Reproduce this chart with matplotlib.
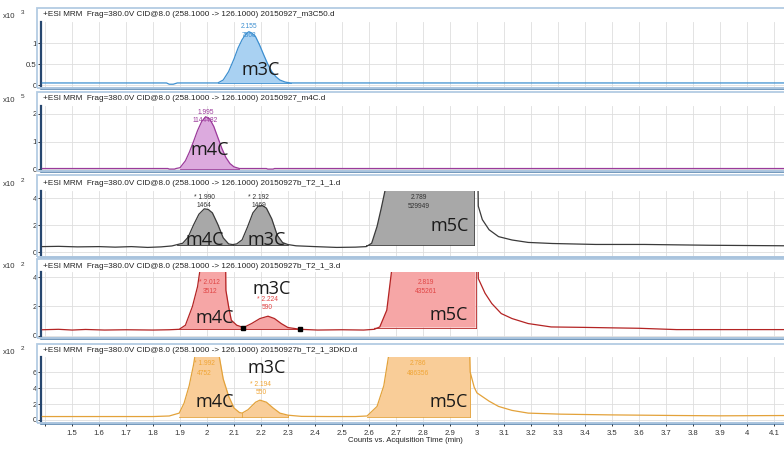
import matplotlib
matplotlib.use("Agg")
import matplotlib.pyplot as plt
from matplotlib.patches import Rectangle
import numpy as np

W, H = 784, 453

# ---------------- data ----------------
headers = [
    "+ESI MRM  Frag=380.0V CID@8.0 (258.1000 -> 126.1000) 20150927_m3C50.d",
    "+ESI MRM  Frag=380.0V CID@8.0 (258.1000 -> 126.1000) 20150927_m4C.d",
    "+ESI MRM  Frag=380.0V CID@8.0 (258.1000 -> 126.1000) 20150927b_T2_1_1.d",
    "+ESI MRM  Frag=380.0V CID@8.0 (258.1000 -> 126.1000) 20150927b_T2_1_3.d",
    "+ESI MRM  Frag=380.0V CID@8.0 (258.1000 -> 126.1000) 20150927b_T2_1_3DKD.d",
]
exponents = ["3", "5", "2", "2", "2"]

t1 = [1.39, 1.60, 1.85, 1.86, 1.875, 1.89, 1.90, 2.04, 2.06, 2.08, 2.10, 2.115, 2.13, 2.145, 2.155, 2.165,
      2.18, 2.195, 2.21, 2.225, 2.24, 2.255, 2.27, 2.29, 2.31, 3.0, 4.15]
y1 = [0.05, 0.05, 0.05, 0.02, 0.02, 0.05, 0.05, 0.05, 0.12, 0.32, 0.62, 0.88, 1.08, 1.22, 1.27, 1.24,
      1.15, 0.95, 0.72, 0.50, 0.32, 0.20, 0.12, 0.07, 0.05, 0.05, 0.05]

t2 = [1.39, 1.855, 1.86, 1.88, 1.885, 1.90, 1.92, 1.935, 1.95, 1.965, 1.98, 1.995, 2.01, 2.025, 2.04,
      2.055, 2.07, 2.085, 2.10, 2.12, 2.22, 2.225, 2.245, 2.25, 4.15]
y2 = [0.02, 0.02, 0.0, 0.0, 0.02, 0.05, 0.3, 0.62, 1.0, 1.4, 1.72, 1.9, 1.82, 1.55, 1.15,
      0.75, 0.42, 0.2, 0.08, 0.02, 0.02, 0.0, 0.0, 0.02, 0.02]

t3 = [1.39, 1.45, 1.52, 1.60, 1.66, 1.72, 1.78, 1.83, 1.87, 1.89, 1.91, 1.93, 1.95, 1.97, 1.99, 2.005,
      2.02, 2.04, 2.06, 2.08, 2.095, 2.11, 2.13, 2.15, 2.17, 2.19, 2.205, 2.22, 2.24, 2.26, 2.28, 2.30,
      2.33, 2.40, 2.48, 2.55, 2.59, 2.61, 2.63, 2.645, 2.66, 2.70, 2.80, 2.90, 2.99, 3.005, 3.02, 3.045,
      3.08, 3.13, 3.19, 3.28, 3.44, 3.62, 3.86, 4.15]
y3 = [0.40, 0.42, 0.38, 0.40, 0.36, 0.40, 0.34, 0.38, 0.45, 0.55, 0.65, 1.1, 2.0, 2.8, 3.2, 3.15,
      2.9, 2.05, 1.05, 0.6, 0.55, 0.6, 0.9, 1.85, 2.9, 3.4, 3.45, 3.25, 2.45, 1.25, 0.7, 0.55,
      0.46, 0.40, 0.34, 0.36, 0.40, 0.65, 1.9, 3.2, 4.6, 30, 40, 40, 30, 3.4, 2.4, 1.65,
      1.14, 0.89, 0.71, 0.63, 0.56, 0.56, 0.50, 0.46]

t4 = [1.39, 1.45, 1.50, 1.55, 1.62, 1.70, 1.80, 1.86, 1.897, 1.92, 1.946, 1.965, 1.975, 2.0, 2.03, 2.06,
      2.07, 2.08, 2.09, 2.11, 2.135, 2.165, 2.196, 2.226, 2.25, 2.275, 2.30, 2.345, 2.41, 2.50, 2.58,
      2.62, 2.64, 2.666, 2.685, 2.75, 2.85, 2.95, 2.995, 3.005, 3.03, 3.055, 3.09, 3.13, 3.19, 3.275,
      3.40, 3.495, 3.60, 3.74, 3.90, 4.15]
y4 = [0.42, 0.45, 0.40, 0.44, 0.40, 0.42, 0.40, 0.42, 0.45, 0.73, 2.0, 3.35, 4.6, 20, 25, 20,
      3.1, 2.0, 1.07, 0.73, 0.57, 0.84, 1.18, 1.34, 1.18, 0.84, 0.57, 0.45, 0.40, 0.42, 0.40,
      0.45, 0.61, 1.75, 4.6, 40, 45, 45, 40, 3.9, 2.9, 2.2, 1.52, 1.18, 0.84, 0.61,
      0.58, 0.55, 0.52, 0.43, 0.43, 0.43]

t5 = [1.39, 1.60, 1.80, 1.86, 1.897, 1.915, 1.934, 1.95, 1.96, 2.0, 2.04, 2.06, 2.08, 2.10, 2.12, 2.13,
      2.152, 2.18, 2.196, 2.22, 2.245, 2.27, 2.30, 2.35, 2.45, 2.55, 2.593, 2.63, 2.655, 2.675, 2.75,
      2.85, 2.95, 2.975, 2.99, 3.0, 3.045, 3.08, 3.13, 3.19, 3.31, 3.49, 3.74, 3.90, 4.15]
y5 = [0.43, 0.43, 0.43, 0.5, 0.86, 2.1, 4.3, 6.9, 9, 15, 9, 5.15, 3.0, 1.5, 0.94, 0.86,
      1.29, 2.23, 2.49, 2.23, 1.5, 0.86, 0.6, 0.45, 0.43, 0.43, 0.5, 1.7, 4.3, 8.5, 40,
      45, 40, 6.0, 4.1, 3.4, 2.36, 1.7, 1.2, 0.86, 0.73, 0.64, 0.56, 0.52, 0.56]

# integration windows (start, end, baseline level)
fills1 = [(2.04, 2.31, 0.05)]
fills2 = [(1.90, 2.12, 0.02)]
fills3 = [(1.89, 2.095, 0.5), (2.095, 2.30, 0.5), (2.59, 2.99, 0.5)]
fills4 = [(1.897, 2.135, 0.45), (2.135, 2.345, 0.45), (2.62, 2.995, 0.57)]
fills5 = [(1.897, 2.13, 0.43), (2.13, 2.30, 0.43), (2.593, 2.975, 0.43)]

# peak annotations: (x, y, text)
ann1 = [(2.155, 1.40, "2.155"), (2.155, 1.17, "7868")]
ann2 = [(1.995, 2.05, "1.995"), (1.995, 1.75, "1144482")]
ann3 = [(1.99, 4.05, "* 1.990"), (1.99, 3.45, "1464"), (2.192, 4.05, "* 2.192"), (2.192, 3.45, "1469"),
        (2.785, 4.05, "2.789"), (2.785, 3.35, "529949")]
ann4 = [(2.01, 3.65, "* 2.012"), (2.01, 3.05, "3512"), (2.224, 2.45, "* 2.224"), (2.224, 1.9, "590"),
        (2.81, 3.6, "2.819"), (2.81, 3.05, "435261")]
ann5 = [(1.99, 7.05, "* 1.992"), (1.99, 5.85, "4752"), (2.20, 4.5, "* 2.194"), (2.20, 3.45, "550"),
        (2.78, 7.05, "2.786"), (2.78, 5.85, "486356")]

# big compound labels: (x, y, text)
lab1 = [(2.20, 0.36, "m3C")]
lab2 = [(2.01, 0.70, "m4C")]
lab3 = [(1.99, 0.9, "m4C"), (2.22, 0.9, "m3C"), (2.90, 1.9, "m5C")]
lab4 = [(2.03, 1.2, "m4C"), (2.24, 3.2, "m3C"), (2.895, 1.4, "m5C")]
lab5 = [(2.03, 2.2, "m4C"), (2.22, 6.5, "m3C"), (2.895, 2.3, "m5C")]

markers4 = ([2.135, 2.345], [0.57, 0.45])

yticks = [[0, 0.5, 1], [0, 1, 2], [0, 2, 4], [0, 2, 4], [0, 2, 4, 6]]
ytlabels = [["0", "0.5", "1"], ["0", "1", "2"], ["0", "2", "4"], ["0", "2", "4"], ["0", "2", "4", "6"]]
ylims = [(-0.07, 1.5), (-0.07, 2.29), (-0.37, 4.52), (-0.14, 4.34), (-0.38, 7.9)]
xticks = [round(1.4 + 0.1 * i, 1) for i in range(28)]
xtlabels = ["" if v == 1.4 else ("%g" % v) for v in xticks]

line_colors = ["#3d8fd0", "#9b3a9b", "#3a3a3a", "#b42424", "#e3a23a"]
fill_colors = ["#a9d1f2", "#dcaade", "#a8a8a8", "#f6a6a6", "#f9cd98"]
ann_colors = ["#3d8fd0", "#9b3a9b", "#333333", "#e04545", "#f0a535"]

# ---------------- layout (pixels) ----------------
box_tops = [8, 92, 175, 259, 344]
head_y = [15, 99, 183, 266, 351]
plot_tops = [22, 106, 191, 272, 357]
plot_bots = [88, 171, 257, 338, 423]
XL = 41

fig = plt.figure(figsize=(W / 100, H / 100), dpi=100)
fig.patch.set_facecolor("white")

series = [(t1, y1), (t2, y2), (t3, y3), (t4, y4), (t5, y5)]
fills = [fills1, fills2, fills3, fills4, fills5]
anns = [ann1, ann2, ann3, ann4, ann5]
labs = [lab1, lab2, lab3, lab4, lab5]

small = dict(family="Liberation Sans", fontsize=5.6)

for i in range(5):
    # panel box
    fig.patches.append(Rectangle((37 / W, 1 - plot_bots[i] / H), 760 / W, (plot_bots[i] - box_tops[i]) / H,
                                 transform=fig.transFigure, fill=False, edgecolor="#b3cbe3", lw=1.3,
                                 zorder=0))
    ax = fig.add_axes([XL / W, 1 - plot_bots[i] / H, (W - XL + 2) / W, (plot_bots[i] - plot_tops[i]) / H])
    t = np.array(series[i][0])
    y = np.array(series[i][1])
    for (a, b, base) in fills[i]:
        m = (t >= a - 1e-9) & (t <= b + 1e-9)
        ax.fill_between(t[m], y[m], base, color=fill_colors[i], lw=0, zorder=1)
        ax.plot(t[m][[0, -1]], [base, base], color=line_colors[i], lw=0.6, zorder=2)
        ax.plot([t[m][-1], t[m][-1]], [base, y[m][-1]], color=line_colors[i], lw=0.6, zorder=2)
    ax.plot(t, y, color=line_colors[i], lw=0.9, zorder=3)
    if i == 3:
        ax.plot(markers4[0], markers4[1], "s", color="black", ms=3, zorder=4)
    for (x, yy, s) in anns[i]:
        ax.text(x, yy, s, color=ann_colors[i], ha="center", va="center", family="Liberation Sans",
                fontsize=4.8, zorder=5)
    for (x, yy, s) in labs[i]:
        ax.text(x, yy, s, color="#1a1a1a", ha="center", va="center", family="Open Sans",
                fontsize=13, zorder=6)
    ax.set_xlim(1.385, 4.145)
    ax.set_ylim(*ylims[i])
    ax.set_xticks(xticks)
    ax.set_yticks(yticks[i])
    ax.set_yticklabels(ytlabels[i], **small)
    ax.grid(True, color="#dedede", lw=0.6, zorder=0)
    ax.set_axisbelow(True)
    for s in ["top", "right"]:
        ax.spines[s].set_visible(False)
    ax.spines["left"].set_color("#27476f")
    ax.spines["left"].set_linewidth(1.6)
    ax.spines["bottom"].set_color("#4a7aa8")
    ax.spines["bottom"].set_linewidth(1.8)
    ax.tick_params(axis="y", length=2.5, width=0.7, pad=0.5, color="#333333", labelcolor="#333333")
    if i < 4:
        ax.tick_params(axis="x", length=0, labelbottom=False)
    else:
        ax.set_xticklabels(xtlabels, **small)
        ax.tick_params(axis="x", length=2.5, width=0.7, pad=2.5, color="#333333", labelcolor="#333333")
    ax.patch.set_alpha(0)
    # header and exponent
    fig.text(43 / W, 1 - head_y[i] / H, headers[i], va="center", ha="left", color="#222222",
             family="Liberation Sans", fontsize=5.85)
    fig.text(3 / W, 1 - (head_y[i] + 1) / H, "x10", va="center", ha="left", color="#333333", **small)
    fig.text(21 / W, 1 - (head_y[i] - 2) / H, exponents[i], va="center", ha="left", color="#333333",
             family="Liberation Sans", fontsize=4.6)

fig.text(405 / W, 1 - 441 / H, "Counts vs. Acquisition Time (min)", ha="center", va="center",
         color="#222222", **small)

fig.savefig("out.png", dpi=100)
